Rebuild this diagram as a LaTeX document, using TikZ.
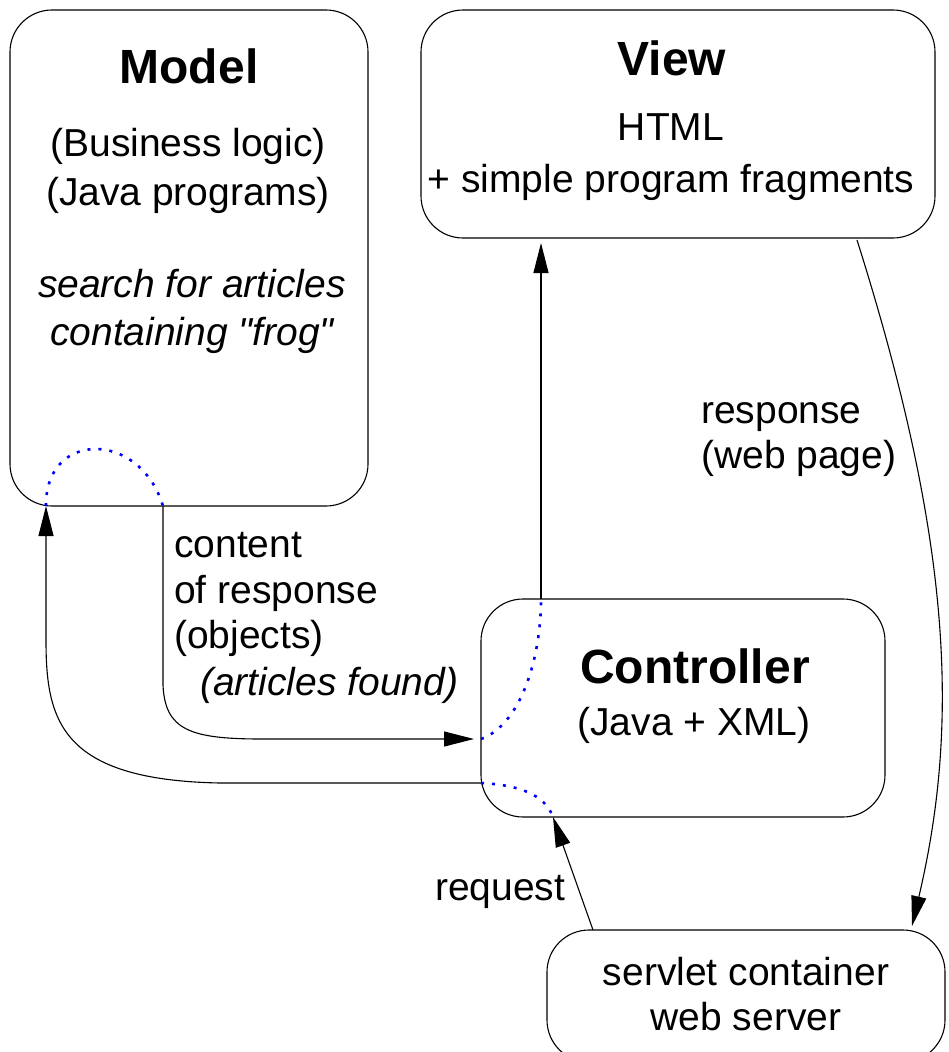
\documentclass[tikz,border=0pt]{standalone}
\usepackage{fontspec}
\setmainfont{Liberation Sans}[Ligatures=TeXOff]
\usetikzlibrary{arrows.meta}

\tikzset{
  box/.style={draw, line width=1.1pt, rounded corners=42pt, inner sep=0pt},
  txt/.style={inner sep=0pt, font=\fontsize{39}{46}\selectfont},
  itxt/.style={txt, font=\fontsize{39}{46}\selectfont\itshape},
  ttl/.style={inner sep=0pt, font=\fontsize{48}{56}\selectfont\bfseries},
  conn/.style={line width=1.1pt},
  arr/.style={conn, -{Triangle[length=30pt,width=15pt]}},
  inside/.style={blue, line width=2.6pt, dash pattern=on 3pt off 8pt},
}

\begin{document}
\begin{tikzpicture}[x=1pt, y=-1pt]
  \useasboundingbox (0,0) rectangle (948,1052);
  \clip (0,0) rectangle (948,1052);

  % boxes
  \node[box, minimum width=358pt, minimum height=496pt] (model) at (189,258) {};
  \node[box, minimum width=514pt, minimum height=228pt] (view) at (678,124) {};
  \node[box, minimum width=404pt, minimum height=218pt] (ctrl) at (683,708) {};
  \node[box, minimum width=398pt, minimum height=132pt] (servlet) at (746,996) {};

  % Model texts
  \node[ttl, anchor=base] (modelT) at (189,83) {Model};
  \node[txt, anchor=base] (modelA) at (188,156) {(Business logic)};
  \node[txt, anchor=base] (modelB) at (188,205) {(Java programs)};
  \node[itxt, anchor=base] (modelC) at (192,297) {search for articles};
  \node[itxt, anchor=base] (modelD) at (192,345) {containing "frog"};

  % View texts
  \node[ttl, anchor=base] (viewT) at (672,75) {View};
  \node[txt, anchor=base] (viewA) at (671,140) {HTML};
  \node[txt, anchor=base] (viewB) at (671,192) {+ simple program fragments};

  % Controller texts
  \node[ttl, anchor=base] (ctrlT) at (695,683) {Controller};
  \node[txt, anchor=base] (ctrlA) at (694,735) {(Java + XML)};

  % servlet texts
  \node[txt, anchor=base] (servA) at (746,985) {servlet container};
  \node[txt, anchor=base] (servB) at (746,1030) {web server};

  % connector labels
  \node[txt, anchor=base west] (lc1) at (174,557) {content};
  \node[txt, anchor=base west] (lc2) at (174,603) {of response};
  \node[txt, anchor=base west] (lc3) at (174,648) {(objects)};
  \node[itxt, anchor=base west] (lc4) at (200,695) {(articles found)};
  \node[txt, anchor=base west] (lr1) at (701,423) {response};
  \node[txt, anchor=base west] (lr2) at (701,468) {(web page)};
  \node[txt, anchor=base west] (lq) at (435,900) {request};

  % connection points on the box borders
  \coordinate (mOut) at (163,506);
  \coordinate (mIn) at (46,506);
  \coordinate (cInL) at (481,739);
  \coordinate (cOutT) at (541,599);
  \coordinate (cOutL) at (481,783);
  \coordinate (cInB) at (553,817);
  \coordinate (vIn) at (541,240);
  \coordinate (vOut) at (857,240);
  \coordinate (sIn) at (912,926);
  \coordinate (sOut) at (593,930);

  % model -> controller (content of response)
  \draw[arr, shorten >=7pt] (mOut) -- (163,685)
     .. controls (165,730) and (190,739) .. (262,739) -- (cInL);
  % route through the controller to the view
  \draw[inside] (cInL) .. controls (520,725) and (541,660) .. (cOutT);
  \draw[arr, shorten >=3pt] (cOutT) -- (vIn);

  % controller -> model
  \draw[arr] (cOutL) -- (220,783)
     .. controls (60,780) and (46,720) .. (46,640) -- (mIn);
  % route through the controller from the request
  \draw[inside] (cOutL) .. controls (520,785) and (545,795) .. (cInB);
  \draw[inside] (mIn) .. controls (45,430) and (140,430) .. (mOut);

  % request
  \draw[arr] (sOut) -- (cInB);

  % response
  \draw[arr] (vOut) .. controls (955,550) and (958,730) .. (sIn);
\end{tikzpicture}
\end{document}
